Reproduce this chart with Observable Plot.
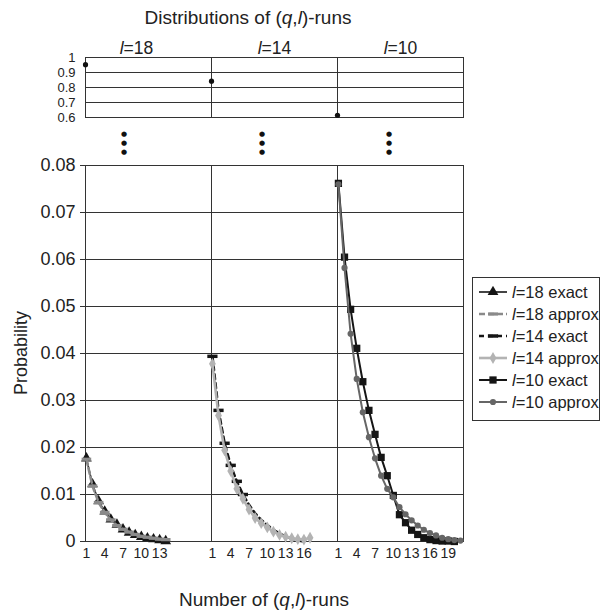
<!DOCTYPE html>
<html><head><meta charset="utf-8">
<script src="https://cdn.jsdelivr.net/npm/d3@7"></script>
<script src="https://cdn.jsdelivr.net/npm/@observablehq/plot@0.6"></script>
<style>
body{margin:0;background:#fff;}
#wrap{position:relative;width:602px;height:610px;overflow:hidden;font-family:"Liberation Sans",Arial,Helvetica,sans-serif;color:#222;}
.abs{position:absolute;white-space:nowrap;}
.dot{font-family:"DejaVu Sans",sans-serif;font-size:7px;line-height:9px;height:9px;text-align:center;width:10px;margin-left:-5px;color:#111;}
#legend{left:472px;top:277px;width:126px;height:139px;border:1px solid #333;padding-top:3px;box-sizing:content-box;}
#legend .row{height:22px;line-height:22px;font-size:16.5px;padding-left:5px;display:flex;align-items:center;}
#legend svg{margin-right:4px;flex:none;}
</style></head><body><div id="wrap"></div>
<script>
// ---- data ----
const panels = [18, 14, 10];
const zeroRunProb = [0.952, 0.842, 0.615];           // P(0 runs) for l = 18, 14, 10
const l18Exact  = [0.0177, 0.0122, 0.0086, 0.0064, 0.0047, 0.0036, 0.0026, 0.0019, 0.0014, 0.0010, 0.0007, 0.0005, 0.0003, 0.0001];
const l18Approx = [0.0175, 0.0118, 0.0083, 0.0062, 0.0046, 0.0034, 0.0026, 0.0020, 0.0015, 0.0011, 0.0009, 0.0007, 0.0005, 0.0004];
const l14Exact  = [0.0394, 0.0279, 0.0209, 0.0162, 0.0128, 0.0100, 0.0078, 0.0060, 0.0046, 0.0035, 0.0025, 0.0017, 0.0011, 0.0006, 0.0002, 0.0000];
const l14Approx = [0.0378, 0.0268, 0.0194, 0.0150, 0.0112, 0.0091, 0.0068, 0.0050, 0.0039, 0.0030, 0.0021, 0.0014, 0.0010, 0.0007, 0.0005, 0.0004, 0.0008];
const l10Exact  = [0.0762, 0.0605, 0.0494, 0.0411, 0.0340, 0.0279, 0.0228, 0.0179, 0.0140, 0.0098, 0.0057, 0.0040, 0.0024, 0.0015, 0.0008, 0.0004, 0.0002, 0.0001, 0.0001, 0.0000];
const l10Approx = [0.0760, 0.0582, 0.0442, 0.0346, 0.0275, 0.0222, 0.0177, 0.0140, 0.0112, 0.0094, 0.0073, 0.0058, 0.0045, 0.0034, 0.0025, 0.0018, 0.0013, 0.0008, 0.0005, 0.0003, 0.0002];
const yTicks = [0, 0.01, 0.02, 0.03, 0.04, 0.05, 0.06, 0.07, 0.08];
const topTicks = [0.6, 0.7, 0.8, 0.9, 1];
const xTicks18 = [1, 4, 7, 10, 13];
const xTicks14 = [1, 4, 7, 10, 13, 16];
const xTicks10 = [1, 4, 7, 10, 13, 16, 19];
const l14MarkedCount = 6; // exact l=14 markers shown on the first points only

// ---- styles ----
const dashSymbol = {draw(ctx, size){ const w = Math.sqrt(size) * 0.9, h = w * 0.34; ctx.moveTo(-w,-h); ctx.lineTo(w,-h); ctx.lineTo(w,h); ctx.lineTo(-w,h); ctx.closePath(); }};
const series = [
  {l:18, kind:"exact",  values:l18Exact,  stroke:"#151515", width:1.6, dash:null,  symbol:"triangle", r:4,   fill:"#151515"},
  {l:18, kind:"approx", values:l18Approx, stroke:"#8a8a8a", width:2.6, dash:"6,3", symbol:dashSymbol, r:3,   fill:"#8a8a8a"},
  {l:14, kind:"exact",  values:l14Exact,  stroke:"#151515", width:2.6, dash:"5,4", symbol:dashSymbol, r:3.2, fill:"#151515", limit:l14MarkedCount},
  {l:14, kind:"approx", values:l14Approx, stroke:"#b3b3b3", width:2.6, dash:null,  symbol:"diamond",  r:3.6, fill:"#b3b3b3"},
  {l:10, kind:"exact",  values:l10Exact,  stroke:"#151515", width:2,   dash:null,  symbol:"square",   r:4.1, fill:"#151515"},
  {l:10, kind:"approx", values:l10Approx, stroke:"#666666", width:2,   dash:null,  symbol:"circle",   r:3.1, fill:"#666666"}
];
const font = '"Liberation Sans", Arial, Helvetica, sans-serif';
const gridColor = "#333";

const rowsFor = (l, values) => values.map((p, i) => ({l, k: i + 1, p}));
const zeroRows = panels.map((l, i) => ({l, k: 0, p: zeroRunProb[i]}));
const xTickRows = [
  ...xTicks18.map(k => ({l:18, k})),
  ...xTicks14.map(k => ({l:14, k})),
  ...xTicks10.map(k => ({l:10, k}))
];

const wrap = document.getElementById("wrap");

// ---- top chart (P of zero runs) ----
const topChart = Plot.plot({
  width: 470, height: 125,
  marginLeft: 85, marginRight: 7, marginTop: 57, marginBottom: 8,
  style: {fontFamily: font, fontSize: "17px", color: "#222", background: "transparent", overflow: "visible"},
  fx: {domain: panels, padding: 0, label: null},
  x: {domain: [0, 20.65], axis: null},
  y: {domain: [0.6, 1], axis: null},
  marks: [
    Plot.gridY(topTicks.slice(1, -1), {stroke: gridColor, strokeOpacity: 1}),
    Plot.frame({stroke: gridColor}),
    Plot.axisY(topTicks, {tickSize: 0, tickPadding: 10, fontSize: 13, label: null, tickFormat: d => d === 1 ? "1" : d.toFixed(1)}),
    Plot.axisFx({anchor: "top", tickSize: 0, tickPadding: 4, label: null, fontSize: 17.5, tickFormat: d => `l=${d}`}),
    Plot.dot(zeroRows, {fx: "l", x: "k", y: "p", r: 2.6, fill: "#111"})
  ]
});
topChart.style.position = "absolute"; topChart.style.left = "0px"; topChart.style.top = "0px";
wrap.appendChild(topChart);

// ---- bottom chart ----
const seriesMarks = [];
for (const s of series) {
  const rows = rowsFor(s.l, s.values);
  seriesMarks.push(Plot.lineY(rows, {fx: "l", x: "k", y: "p", stroke: s.stroke, strokeWidth: s.width, strokeDasharray: s.dash || undefined}));
  const marked = s.limit ? rows.filter(d => d.k <= s.limit) : rows;
  seriesMarks.push(Plot.dot(marked, {fx: "l", x: "k", y: "p", symbol: s.symbol, r: s.r, fill: s.fill, stroke: "none"}));
}
const bottomChart = Plot.plot({
  width: 470, height: 440,
  marginLeft: 85, marginRight: 7, marginTop: 25, marginBottom: 39,
  style: {fontFamily: font, fontSize: "18px", color: "#222", background: "transparent", overflow: "visible"},
  fx: {domain: panels, padding: 0, axis: null},
  x: {domain: [0.85, 21.5], axis: null},
  y: {domain: [0, 0.08], axis: null},
  marks: [
    Plot.gridY(yTicks, {stroke: gridColor, strokeOpacity: 1}),
    Plot.frame({stroke: gridColor}),
    Plot.axisY(yTicks, {tickSize: 5, tickPadding: 5, fontSize: 18, label: null, stroke: gridColor, tickFormat: d => d === 0 ? "0" : d.toFixed(2)}),
    Plot.text(xTickRows, {fx: "l", x: "k", text: d => String(d.k), frameAnchor: "bottom", dy: 16, fontSize: 14, fill: "#222"}),
    ...seriesMarks
  ]
});
bottomChart.style.position = "absolute"; bottomChart.style.left = "0px"; bottomChart.style.top = "140px";
wrap.appendChild(bottomChart);

// italic "l" in facet labels (left label sits a little left of its panel centre in the original)
topChart.querySelectorAll("text").forEach(t => {
  if (t.textContent.startsWith("l=")) {
    const rest = t.textContent.slice(1);
    t.textContent = "";
    const a = document.createElementNS("http://www.w3.org/2000/svg", "tspan");
    a.setAttribute("font-style", "italic"); a.textContent = "l";
    if (rest === "=18") a.setAttribute("dx", "-12");
    const b = document.createElementNS("http://www.w3.org/2000/svg", "tspan");
    b.textContent = rest;
    t.appendChild(a); t.appendChild(b);
  }
});

// ---- html text ----
function addDiv(html, css, cls = "abs") {
  const d = document.createElement("div");
  d.className = cls; d.innerHTML = html; Object.assign(d.style, css); wrap.appendChild(d); return d;
}
addDiv("Distributions of (<i>q</i>,<i>l</i>)-runs", {left: "248px", top: "7px", fontSize: "19px", lineHeight: "22px", transform: "translateX(-50%)"});
addDiv("Number of (<i>q</i>,<i>l</i>)-runs", {left: "264px", top: "589px", fontSize: "19px", lineHeight: "22px", transform: "translateX(-50%)"});
addDiv("Probability", {left: "21px", top: "353px", fontSize: "18px", lineHeight: "20px", transform: "translate(-50%,-50%) rotate(-90deg)"});
for (const x of [124, 262, 389]) for (const i of [0, 1, 2]) addDiv("●", {left: x + "px", top: (129.5 + i * 9) + "px"}, "abs dot");

// ---- legend ----
const legend = addDiv("", {}, "abs"); legend.id = "legend";
for (const s of series) {
  const row = document.createElement("div"); row.className = "row";
  const svg = d3.create("svg").attr("width", 30).attr("height", 12);
  svg.append("line").attr("x1", 1).attr("x2", 29).attr("y1", 6).attr("y2", 6)
    .attr("stroke", s.stroke).attr("stroke-width", s.width).attr("stroke-dasharray", s.dash);
  const typeMap = {triangle: d3.symbolTriangle, diamond: d3.symbolDiamond, square: d3.symbolSquare, circle: d3.symbolCircle};
  const type = typeof s.symbol === "string" ? typeMap[s.symbol] : s.symbol;
  svg.append("path").attr("transform", "translate(15,6)").attr("fill", s.fill)
    .attr("d", d3.symbol(type, Math.PI * s.r * s.r)());
  row.appendChild(svg.node());
  const txt = document.createElement("span");
  txt.innerHTML = `<i>l</i>=${s.l} ${s.kind}`;
  row.appendChild(txt);
  legend.appendChild(row);
}
</script></body></html>
